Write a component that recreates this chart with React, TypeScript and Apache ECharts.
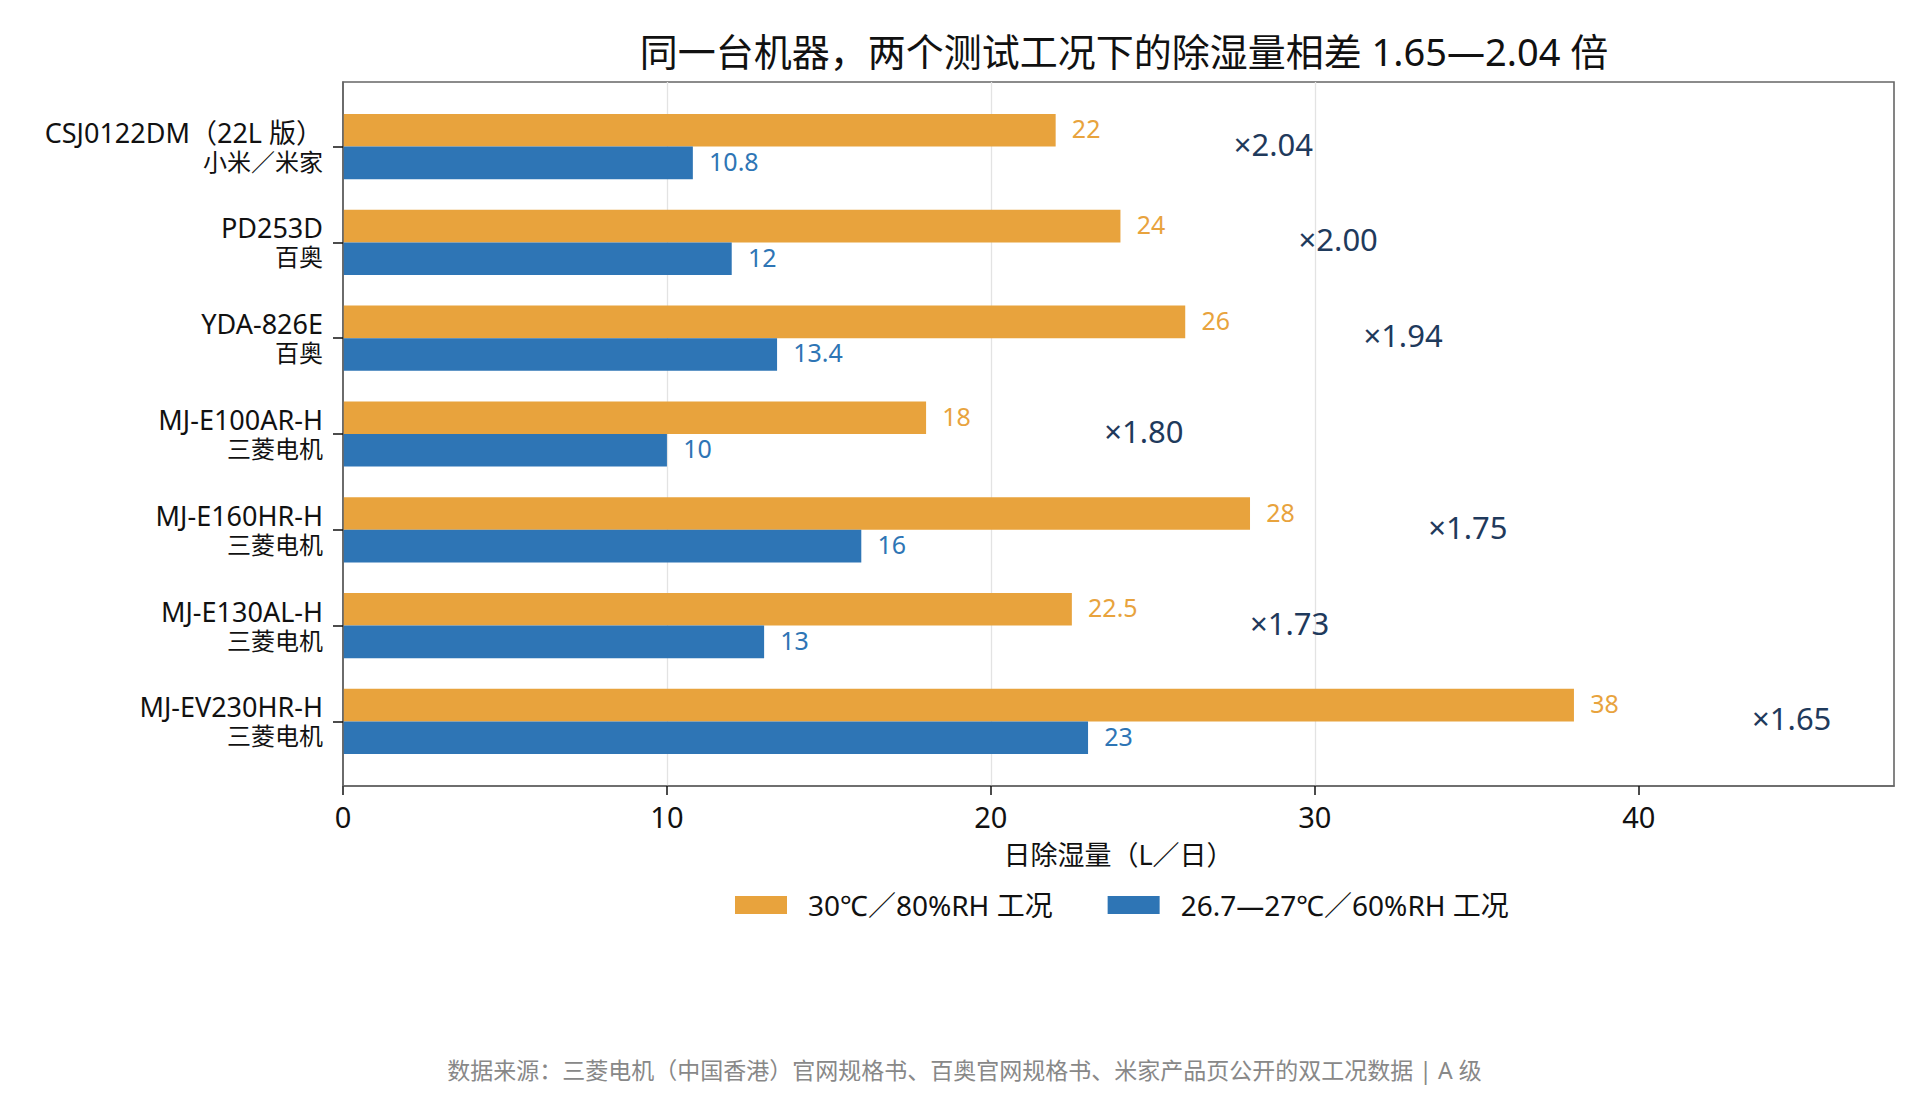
import { useEffect, useRef } from 'react'
import * as echarts from 'echarts'

const FONT = '"Noto Sans", "Noto Sans CJK SC", sans-serif'

const models = ['CSJ0122DM（22L 版）', 'PD253D', 'YDA-826E', 'MJ-E100AR-H', 'MJ-E160HR-H', 'MJ-E130AL-H', 'MJ-EV230HR-H']
const brands = ['小米／米家', '百奥', '百奥', '三菱电机', '三菱电机', '三菱电机', '三菱电机']
const hotValues = [22, 24, 26, 18, 28, 22.5, 38]
const mildValues = [10.8, 12, 13.4, 10, 16, 13, 23]
const xTicks = [0, 10, 20, 30, 40]
const seriesNames = ['30℃／80%RH 工况', '26.7—27℃／60%RH 工况']

const ORANGE = '#E8A33D'
const BLUE = '#2E75B5'
const NAVY = '#1F3A5C'
const BAR_H = 0.34

function barSeries(name: string, values: number[], offset: number, color: string) {
  return {
    type: 'custom',
    name,
    itemStyle: { color },
    encode: { x: 0, y: 1 },
    data: values.map((v, i) => [v, i]),
    renderItem: (_params: any, api: any) => {
      const v = api.value(0)
      const i = api.value(1)
      const p0 = api.coord([0, i + offset - BAR_H / 2])
      const p1 = api.coord([v, i + offset + BAR_H / 2])
      const lab = api.coord([v + 0.5, i + offset])
      return {
        type: 'group',
        children: [
          {
            type: 'rect',
            shape: { x: p0[0], y: Math.min(p0[1], p1[1]), width: p1[0] - p0[0], height: Math.abs(p1[1] - p0[1]) },
            style: { fill: color },
          },
          {
            type: 'text',
            x: lab[0],
            y: lab[1] - 2,
            style: { text: String(v), fill: color, font: `25px ${FONT}`, align: 'left', verticalAlign: 'middle' },
          },
        ],
      }
    },
  }
}

export default function App() {
  const chartRef = useRef<HTMLDivElement>(null)

  useEffect(() => {
    if (!chartRef.current) return
    const chart = echarts.init(chartRef.current, null, { renderer: 'svg' })

    const option: any = {
      animation: false,
      textStyle: { fontFamily: FONT },
      title: [
        {
          text: '同一台机器，两个测试工况下的除湿量相差 1.65—2.04 倍',
          left: 1119,
          top: 27,
          textAlign: 'center',
          textStyle: { fontSize: 38, fontWeight: 'normal', color: '#111', fontFamily: FONT },
        },
        {
          text: '数据来源：三菱电机（中国香港）官网规格书、百奥官网规格书、米家产品页公开的双工况数据 | A 级',
          left: 'center',
          top: 1053,
          textStyle: { fontSize: 23, fontWeight: 'normal', color: '#888', fontFamily: FONT },
        },
      ],
      legend: {
        data: seriesNames,
        left: 730,
        top: 886,
        icon: 'rect',
        itemWidth: 52,
        itemHeight: 18,
        itemGap: 55,
        textStyle: { fontSize: 28, color: '#111', fontFamily: FONT, padding: [0, 0, 0, 16] },
      },
      grid: {
        left: 343,
        top: 82,
        right: 35,
        bottom: 334,
        show: true,
        borderColor: '#666',
        borderWidth: 1.6,
        containLabel: false,
      },
      xAxis: {
        type: 'value',
        min: 0,
        max: 47.88,
        interval: 10,
        name: '日除湿量（L／日）',
        nameLocation: 'middle',
        nameGap: 55,
        nameTextStyle: { fontSize: 27, color: '#111', fontFamily: FONT },
        axisLine: { show: true, onZero: false, lineStyle: { color: '#666', width: 1.6 } },
        axisTick: { show: true, length: 9, customValues: xTicks, lineStyle: { color: '#111', width: 1.5 } },
        axisLabel: { fontSize: 29, color: '#111', margin: 16, customValues: xTicks, fontFamily: FONT },
        splitLine: { show: true, showMinLine: false, showMaxLine: false, lineStyle: { color: '#e3e3e3', width: 1.3 } },
      },
      yAxis: {
        type: 'value',
        inverse: true,
        min: -0.674,
        max: 6.674,
        z: 10,
        axisLine: { show: true, onZero: false, lineStyle: { color: '#666', width: 1.6 } },
        axisTick: { show: true, length: 10, customValues: models.map((_, i) => i), lineStyle: { color: '#111', width: 1.5 } },
        axisLabel: {
          customValues: models.map((_, i) => i),
          formatter: (v: number) => `{m|${models[Math.round(v)]}}\n{b|${brands[Math.round(v)]}}`,
          color: '#111',
          align: 'right',
          margin: 20,
          fontFamily: FONT,
          rich: {
            m: { fontSize: 27, lineHeight: 29, color: '#111', fontFamily: FONT, align: 'right' },
            b: { fontSize: 24, lineHeight: 29, color: '#111', fontFamily: FONT, align: 'right' },
          },
        },
        splitLine: { show: false },
      },
      series: [
        barSeries(seriesNames[0], hotValues, -BAR_H / 2, ORANGE),
        barSeries(seriesNames[1], mildValues, BAR_H / 2, BLUE),
        {
          type: 'custom',
          name: 'ratio',
          encode: { x: 0, y: 1 },
          data: hotValues.map((h, i) => [h, i, mildValues[i]]),
          renderItem: (_params: any, api: any) => {
            const h = api.value(0)
            const i = api.value(1)
            const m = api.value(2)
            const p = api.coord([h + 5.5, i])
            return {
              type: 'text',
              x: p[0],
              y: p[1] - 3,
              style: {
                text: `×${(h / m).toFixed(2)}`,
                fill: NAVY,
                font: `31px ${FONT}`,
                align: 'left',
                verticalAlign: 'middle',
              },
            }
          },
        },
      ],
    }

    chart.setOption(option)

    const handleResize = () => chart.resize()
    window.addEventListener('resize', handleResize)
    return () => {
      window.removeEventListener('resize', handleResize)
      chart.dispose()
    }
  }, [])

  return (
    <div
      ref={chartRef}
      style={{ position: 'fixed', left: 0, top: 0, width: '100vw', height: '100vh', background: '#fff' }}
    />
  )
}
